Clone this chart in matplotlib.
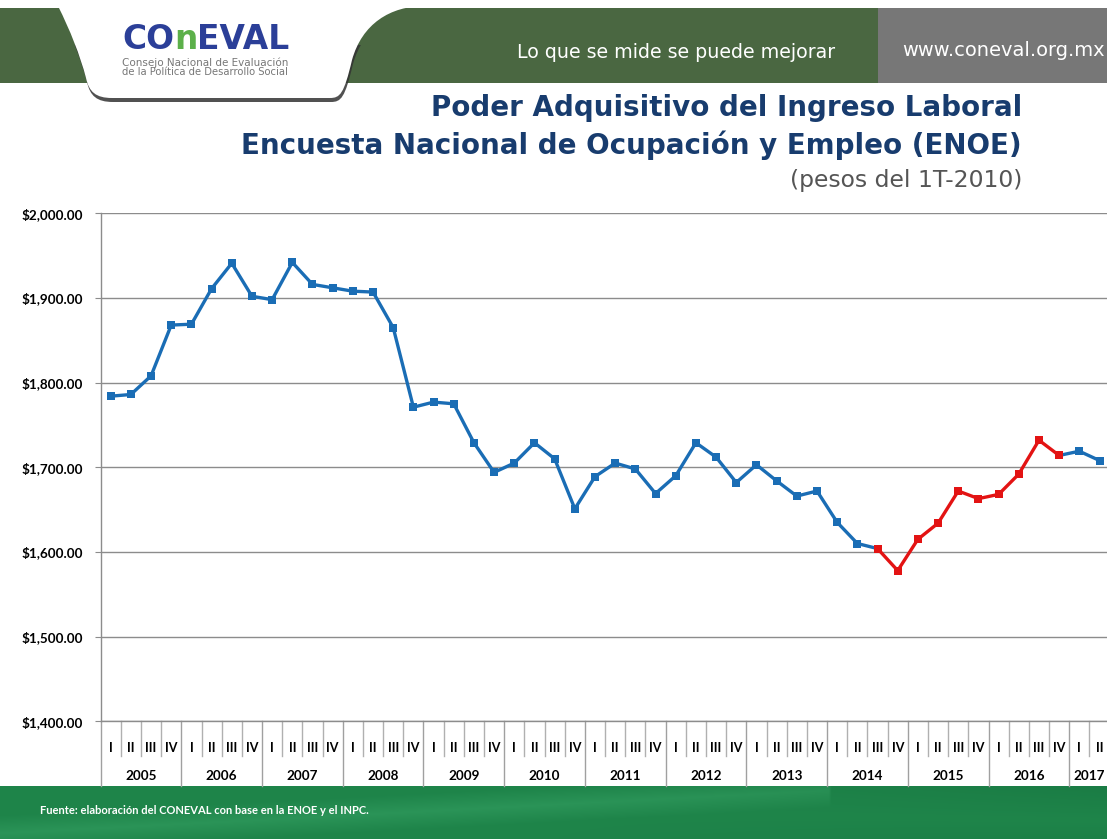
import numpy as np
import matplotlib
matplotlib.use("Agg")
import matplotlib.pyplot as plt
from matplotlib.patches import Rectangle, PathPatch
from matplotlib.path import Path
import matplotlib.transforms as mtransforms

# ---------------- data ----------------
years = [2005, 2006, 2007, 2008, 2009, 2010, 2011, 2012, 2013, 2014, 2015, 2016, 2017]
quarters_per_year = [4, 4, 4, 4, 4, 4, 4, 4, 4, 4, 4, 4, 2]
quarter_names = ["I", "II", "III", "IV"]
ingreso = [1784, 1786, 1808, 1868, 1869, 1911, 1941, 1902, 1898, 1942,
           1916, 1912, 1908, 1907, 1865, 1771, 1777, 1775, 1729, 1694,
           1705, 1729, 1710, 1651, 1689, 1705, 1698, 1669, 1690, 1729,
           1712, 1682, 1703, 1684, 1666, 1672, 1635, 1610, 1604, 1578,
           1615, 1634, 1672, 1663, 1668, 1692, 1732, 1714, 1719, 1708]
highlight_first = 38   # 2014 III
highlight_last = 47    # 2016 IV
y_ticks = [1400, 1500, 1600, 1700, 1800, 1900, 2000]

# ---------------- figure ----------------
W, H = 1107, 839
fig = plt.figure(figsize=(W / 100, H / 100), dpi=100)
fig.patch.set_facecolor("white")

bg = fig.add_axes([0, 0, 1, 1])
bg.set_xlim(0, W)
bg.set_ylim(H, 0)
bg.axis("off")
bg.set_zorder(0)
renderer = fig.canvas.get_renderer()


def fit_width(t, target):
    for _ in range(3):
        w = t.get_window_extent(renderer).width
        t.set_fontsize(t.get_fontsize() * target / w)


# header band
bg.add_patch(Rectangle((0, 8), 878, 75, color="#4a6741", lw=0))
bg.add_patch(Rectangle((878, 8), W - 878, 75, color="#777777", lw=0))


def tab_path(dx=0, dy=0):
    verts = [(58, 6), (70, 30), (80, 55), (86, 78),
             (89, 92), (96, 98), (112, 98),
             (330, 98), (340, 98), (344, 94),
             (352, 60), (362, 24), (390, 6), (425, 6), (58, 6)]
    codes = [Path.MOVETO, Path.CURVE4, Path.CURVE4, Path.CURVE4,
             Path.CURVE4, Path.CURVE4, Path.CURVE4,
             Path.LINETO, Path.CURVE4, Path.CURVE4,
             Path.CURVE4, Path.CURVE4, Path.CURVE4, Path.LINETO, Path.CLOSEPOLY]
    return Path([(x + dx, y + dy) for x, y in verts], codes)


shadow = PathPatch(tab_path(1, 4), facecolor="#333333", edgecolor="none", alpha=0.85)
bg.add_patch(shadow)
clip = Rectangle((0, 45), W, 80, transform=bg.transData)
shadow.set_clip_path(clip)
bg.add_patch(PathPatch(tab_path(0, 0), facecolor="white", edgecolor="none"))

# logo letters laid out side by side
logo_kw = dict(family="DejaVu Sans", weight="heavy", fontsize=24, va="baseline", ha="left")
parts = [("CO", "#2b3f98"), ("n", "#5cb04a"), ("EVAL", "#2b3f98")]
texts = [bg.text(0, 49, s, color=c, **logo_kw) for s, c in parts]
widths = [t.get_window_extent(renderer).width for t in texts]
scale = 168 / sum(widths)
xpos = 122
for t in texts:
    t.set_fontsize(24 * scale)
widths = [t.get_window_extent(renderer).width for t in texts]
for t, w in zip(texts, widths):
    t.set_x(xpos)
    xpos += w
s1t = bg.text(122, 63, "Consejo Nacional de Evaluación", color="#777777", fontsize=6.2,
              family="DejaVu Sans", va="center", ha="left")
s2t = bg.text(122, 72, "de la Política de Desarrollo Social", color="#777777", fontsize=6.2,
              family="DejaVu Sans", va="center", ha="left")
fit_width(s1t, 166)
fit_width(s2t, 166)

lq = bg.text(517, 52, "Lo que se mide se puede mejorar", color="white", fontsize=13.5,
             family="DejaVu Sans", ha="left", va="center")
fit_width(lq, 318)
www = bg.text(1105, 50, "www.coneval.org.mx", color="white", fontsize=14,
              family="DejaVu Sans", ha="right", va="center")
fit_width(www, 203)

# titles
t1 = bg.text(1022, 108, "Poder Adquisitivo del Ingreso Laboral", color="#183c6e",
             fontsize=20, weight="bold", family="DejaVu Sans", ha="right", va="center")
t2 = bg.text(1022, 145, "Encuesta Nacional de Ocupación y Empleo (ENOE)", color="#183c6e",
             fontsize=20, weight="bold", family="DejaVu Sans", ha="right", va="center")
t3 = bg.text(1022, 180, "(pesos del 1T-2010)", color="#555555",
             fontsize=15, family="DejaVu Sans", ha="right", va="center")
for t, target in [(t1, 590), (t2, 776), (t3, 232)]:
    fit_width(t, target)

# footer band with soft swooshes
fy0 = 786
fx = np.linspace(0, 1, 400)
fyy = np.linspace(0, 1, 60)
X, Y = np.meshgrid(fx, fyy)
base = np.array([0.12, 0.52, 0.29])
light = np.array([0.20, 0.62, 0.38])
dark = np.array([0.04, 0.36, 0.19])
s1 = np.clip(1 - np.abs(Y - (0.9 - 1.1 * X)) * 3.0, 0, 1) * (X < 0.75)
s2 = np.clip(X - 0.45, 0, 1) * 1.6 * np.clip(np.abs(Y - 0.35 - 0.3 * X), 0, 1)
img = (base[None, None, :] * (1 - s1[..., None] * 0.6)
       + light[None, None, :] * s1[..., None] * 0.6)
img = img * (1 - 0.35 * s2[..., None]) + dark[None, None, :] * 0.35 * s2[..., None]
img = np.clip(img, 0, 1)
bg.imshow(img, extent=(0, W, H, fy0), aspect="auto", zorder=1, interpolation="bilinear")
bg.set_xlim(0, W)
bg.set_ylim(H, 0)
bg.text(40, 811, "Fuente: elaboración del CONEVAL con base en la ENOE y el INPC.",
        color="white", fontsize=8, weight="bold", family="Lato", ha="left", va="center",
        zorder=3)

# ---------------- main chart ----------------
px_left, px_right = 100.6, 1109.6
px_top, px_bottom = 213.3, 721.3
ax = fig.add_axes([px_left / W, 1 - px_bottom / H,
                   (px_right - px_left) / W, (px_bottom - px_top) / H])
ax.set_zorder(2)
ax.patch.set_alpha(0)

n = len(ingreso)
x = np.arange(n)
vals = np.array(ingreso, dtype=float)

blue_vals = vals.copy()
blue_vals[highlight_first + 1:highlight_last] = np.nan
red_x = x[highlight_first:highlight_last + 1]
red_vals = vals[highlight_first:highlight_last + 1]

ax.plot(x, blue_vals, color="#1a6db5", lw=2.4, marker="s", markersize=5.2,
        markeredgewidth=0, zorder=3, solid_joinstyle="round")
ax.plot(red_x, red_vals, color="#e31313", lw=2.4, marker="s", markersize=5.2,
        markeredgewidth=0, zorder=4, solid_joinstyle="round")

ax.set_xlim(-0.5, n - 0.5)
ax.set_ylim(y_ticks[0], y_ticks[-1])
ax.set_yticks(y_ticks)
ax.set_yticklabels(["${:,.2f}".format(v) for v in y_ticks])
ax.yaxis.grid(True, color="#8c8c8c", lw=1.0)
ax.set_axisbelow(True)
for side in ["top", "right"]:
    ax.spines[side].set_visible(False)
for side in ["left", "bottom"]:
    ax.spines[side].set_color("#8c8c8c")
    ax.spines[side].set_linewidth(1.0)
ax.tick_params(axis="y", length=4, color="#8c8c8c", pad=9)
for lab in ax.get_yticklabels():
    lab.set_fontfamily("Lato")
    lab.set_fontweight("bold")
    lab.set_fontsize(9.7)

q_labels = []
for nq in quarters_per_year:
    q_labels += quarter_names[:nq]
ax.set_xticks(x)
ax.set_xticklabels(q_labels)
ax.tick_params(axis="x", length=0, pad=15)
for lab in ax.get_xticklabels():
    lab.set_fontfamily("Lato")
    lab.set_fontweight("bold")
    lab.set_fontsize(9)

trans = mtransforms.blended_transform_factory(ax.transData, ax.transAxes)
q_sep = -(756 - px_bottom) / (px_bottom - px_top)
y_sep = -(786 - px_bottom) / (px_bottom - px_top)
y_lab = -(776 - px_bottom) / (px_bottom - px_top)

start = 0
for yr, nq in zip(years, quarters_per_year):
    ax.plot([start - 0.5, start - 0.5], [0, y_sep], transform=trans, color="#a0a0a0",
            lw=1.0, clip_on=False)
    for k in range(1, nq):
        ax.plot([start + k - 0.5] * 2, [0, q_sep], transform=trans, color="#b0b0b0",
                lw=1.0, clip_on=False)
    ax.text(start + nq / 2 - 0.5, y_lab, str(yr), transform=trans, ha="center",
            va="center", family="Lato", weight="bold", fontsize=9.7)
    start += nq
ax.plot([start - 0.5, start - 0.5], [0, y_sep], transform=trans, color="#a0a0a0",
        lw=1.0, clip_on=False)

fig.savefig("out.png", dpi=100)
